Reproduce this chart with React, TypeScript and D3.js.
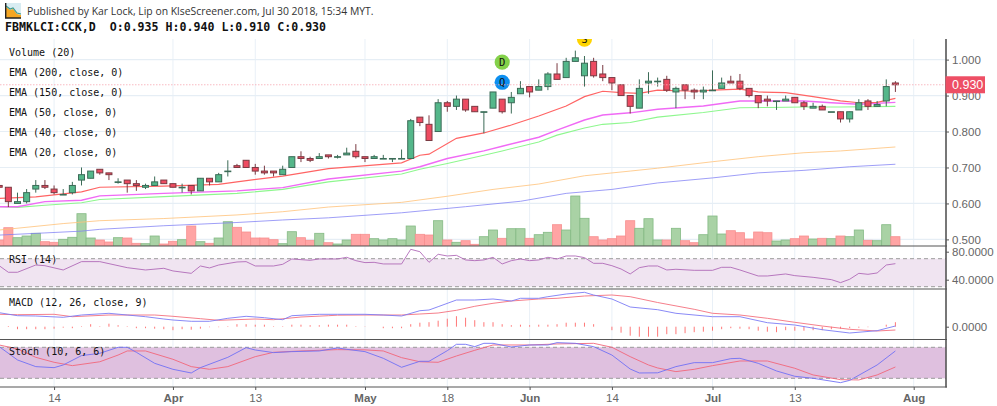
import { useEffect, useRef } from 'react';
import * as d3 from 'd3';

const opens = [.650,.645,.600,.605,.640,.650,.640,.625,.630,.665,.670,.695,.685,.660,.665,.655,.645,.650,.665,.655,.645,.650,.635,.670,.660,.690,.705,.720,.700,.690,.690,.680,.700,.730,.725,.725,.735,.730,.735,.745,.730,.725,.725,.725,.725,.725,.840,.820,.800,.880,.870,.890,.870,.855,.865,.890,.880,.905,.925,.915,.925,.960,.950,.995,.955,.995,.960,.950,.930,.900,.865,.935,.940,.945,.910,.930,.915,.910,.915,.920,.940,.940,.920,.900,.890,.885,.885,.895,.880,.865,.870,.855,.855,.835,.860,.885,.870,.885,.935];
const highs = [.650,.645,.630,.640,.665,.665,.650,.640,.660,.700,.690,.695,.685,.670,.665,.665,.655,.675,.665,.655,.655,.650,.670,.670,.685,.720,.710,.720,.710,.705,.690,.705,.730,.745,.730,.740,.735,.735,.755,.765,.730,.735,.735,.725,.750,.835,.840,.845,.890,.885,.900,.890,.870,.855,.910,.890,.910,.940,.925,.945,.965,.990,1.005,1.025,1.010,1.005,.985,.950,.930,.900,.945,.965,.950,.955,.925,.930,.920,.925,.970,.950,.955,.960,.920,.900,.900,.885,.900,.895,.885,.880,.875,.855,.855,.855,.890,.890,.885,.945,.940];
const lows = [.645,.590,.600,.600,.630,.640,.625,.625,.625,.650,.670,.680,.665,.655,.630,.635,.640,.650,.655,.645,.630,.625,.635,.650,.660,.675,.700,.700,.680,.680,.675,.680,.700,.715,.715,.725,.725,.725,.735,.725,.715,.725,.725,.715,.725,.725,.815,.775,.800,.855,.860,.855,.855,.795,.865,.850,.850,.905,.895,.915,.915,.945,.950,.995,.925,.950,.940,.915,.900,.850,.865,.905,.925,.910,.865,.890,.890,.890,.915,.920,.935,.915,.895,.865,.870,.860,.885,.880,.860,.865,.860,.855,.825,.825,.860,.860,.870,.870,.910];
const closes = [.645,.605,.605,.630,.650,.645,.630,.625,.650,.680,.690,.685,.680,.660,.655,.650,.650,.660,.655,.645,.645,.635,.670,.660,.680,.690,.700,.700,.690,.685,.685,.695,.730,.725,.720,.730,.730,.730,.740,.730,.725,.730,.725,.725,.725,.830,.825,.775,.880,.870,.890,.860,.855,.855,.910,.855,.895,.920,.910,.925,.960,.945,.995,1.005,.990,.955,.950,.935,.900,.870,.920,.940,.940,.915,.920,.915,.910,.915,.915,.935,.935,.920,.900,.880,.885,.885,.890,.880,.870,.870,.860,.855,.835,.855,.880,.870,.875,.925,.930];
const volumes = [6,18.3,8.3,10,12.7,4.3,3.7,6.7,8.7,32.3,8,6,4,8.3,8,2.7,2.3,10,2,4.7,6.3,20,4.3,2.7,8,24.3,18.7,14,8,8,6.3,2.3,14.3,8.3,5.7,12.7,3.3,2,6,11.7,11.7,7.3,6,7.3,6,20,11.7,11,25.3,6,3.7,5.3,1.7,9.3,16,7.7,17.3,17.3,7.7,11.3,13.7,21.3,16,50,27.7,9.3,6,7.3,10,25.3,17.7,27.3,6,6,17.7,5.3,3.3,11.3,30,12,15.3,13.3,7,14,13.3,5,6,7.3,10,7,7.7,7.3,10,9.3,16,5.7,5.3,21.3,9.3];

// [bar index, value] at each visible bend
const ema20 = [[0,.614],[4,.618],[9,.632],[11,.645],[18,.648],[24,.653],[26,.660],[31,.676],[36,.697],[44,.713],[46,.734],[47,.737],[50,.781],[53,.796],[56,.818],[59,.843],[62,.871],[64,.897],[66,.912],[68,.908],[70,.906],[72,.915],[76,.912],[78,.915],[81,.918],[83,.910],[86,.908],[89,.897],[92,.885],[94,.880],[96,.881],[98,.892]];
const ema50 = [[0,.591],[2,.591],[5,.605],[9,.609],[11,.621],[18,.628],[26,.635],[31,.644],[36,.668],[44,.690],[46,.702],[49,.725],[53,.746],[55,.759],[59,.784],[61,.804],[64,.832],[66,.846],[69,.852],[72,.862],[77,.871],[81,.885],[84,.885],[88,.885],[91,.880],[94,.876],[98,.881]];
const ema40 = [[0,.591],[2,.589],[5,.595],[9,.602],[11,.611],[18,.619],[26,.628],[31,.639],[36,.660],[44,.682],[46,.695],[49,.711],[53,.734],[55,.746],[59,.771],[61,.790],[64,.810],[66,.820],[69,.825],[72,.840],[77,.853],[81,.866],[84,.867],[88,.868],[92,.868],[98,.870]];
const ema150 = [[0,.526],[7,.544],[11,.552],[18,.558],[26,.568],[31,.577],[36,.590],[44,.603],[49,.620],[54,.639],[59,.654],[64,.677],[69,.690],[72,.698],[78,.716],[83,.730],[88,.741],[92,.746],[98,.757]];
const ema200 = [[0,.512],[5,.518],[9,.523],[11,.528],[18,.538],[26,.547],[31,.554],[36,.560],[44,.574],[51,.591],[57,.606],[62,.628],[67,.639],[72,.657],[78,.671],[83,.685],[88,.692],[93,.702],[98,.709]];

const rsi = [[0,60],[1,50.6],[2,50.6],[4,61],[5,60],[7,53.9],[9,65.8],[11,65.8],[14,57.2],[16,53.9],[18,56.3],[19,52.5],[21,49.1],[22,59.6],[23,56.8],[24,61],[26,65.3],[27,65.8],[28,59.6],[30,59.6],[31,62],[32,69.6],[34,67.7],[35,69.6],[37,69.6],[38,72],[39,67.2],[40,64.4],[41,64.8],[42,62.5],[44,62.5],[45,83.4],[46,80],[47,64.8],[48,76.3],[49,73.9],[50,74.8],[51,68.2],[52,67.2],[53,68.2],[54,72],[55,62.5],[56,67.2],[57,69.6],[58,67.2],[59,68.2],[60,72],[61,69.6],[62,73.9],[63,73.9],[64,71.5],[65,63.4],[66,63.4],[67,60],[68,55.3],[69,48.2],[70,57.2],[71,59.6],[72,59.6],[73,53.9],[74,54.9],[76,53.4],[78,53.4],[79,57.7],[80,57.7],[81,53.9],[83,45.3],[84,45.3],[86,48.2],[87,45.8],[89,43.4],[91,40.1],[92,35.8],[93,40.6],[94,49.1],[95,47.7],[96,49.6],[97,61],[98,62.9]];

const macd = [[0,14],[2,11],[4,10.7],[7,9.4],[9,11.7],[12,13.4],[14,11.7],[16,10],[18,7.7],[19,6.7],[21,5.4],[23,5.4],[25,8.4],[27,10.4],[29,9],[31,7],[32,11],[35,12.4],[37,12.4],[40,12.4],[42,11.7],[44,10.7],[46,16],[47,16.7],[48,20],[50,26.7],[52,26.7],[54,27.7],[56,25.7],[57,28.4],[59,28.4],[60,30],[62,32.7],[64,34.4],[65,31.7],[67,27.7],[69,19.7],[72,17],[74,13.4],[78,10],[81,10],[84,4],[87,1.7],[90,-3],[93,-6.3],[96,-4],[98,.7]];
const signal = [[0,12.4],[2,12],[6,12.4],[8,10],[12,11.7],[17,11.7],[19,10.4],[22,8],[24,6.4],[28,7.7],[30,7],[33,9.7],[36,11],[37,11.5],[40,11.7],[44,11.7],[46,12.7],[48,13.7],[50,16.4],[52,20.4],[54,23.4],[56,25.7],[59,27.7],[61,28.4],[64,30.7],[67,31.7],[69,30],[72,24.2],[76,17.4],[78,13.4],[81,11.7],[84,8.4],[87,4.4],[90,.7],[93,-2.6],[96,-4.3],[98,-3.3]];
const macdHist = [.5,.7,-2.5,-2.5,-2.5,-2.5,-2,-1,-1.5,.5,2.5,.5,3,1.5,.5,-1.5,-1.5,-2,-2.5,-3.5,-2.5,-3,-2,-.5,-.5,.5,2.5,2.5,2,2,.5,.5,2,2,1.5,1.5,2,2,2,.5,.3,0,-1.5,-1.5,-1.5,2.5,4,4.5,6,8,10.5,9,6.5,4.5,4.5,2.5,1.5,2,1.5,2,2,2.5,4,4,4,2.5,0,-3.5,-6,-9,-10,-10,-10,-7.5,-7.5,-6.5,-5.5,-5,-4,-2.5,-1.5,-2,-2.5,-4,-5,-5.5,-3.5,-4,-4,-3.5,-3.5,-2.5,-2,-1.5,-1,-.5,0,2,4.5];

const stochK = [[0,81.3],[2,55.5],[4,42.6],[6,40.6],[7,45.8],[9,63.9],[11,68.4],[13,80],[14,80],[15,70.3],[17,49],[19,37.4],[21,30.3],[22,40.6],[25,60.6],[27,79.3],[28,74.8],[30,69.7],[32,71.6],[35,72.9],[37,78.7],[38,76.1],[40,71.6],[42,58.7],[44,41.3],[46,52.9],[47,52.9],[49,73.5],[50,85.8],[51,85.8],[52,81.3],[53,87.7],[54,87.7],[56,80.6],[58,84.5],[60,84.5],[61,89],[63,87.7],[65,81.3],[67,65],[69,38],[70,30.3],[72,30.6],[74,42.6],[76,50.3],[78,50.3],[80,58],[81,58.7],[83,49],[85,34.2],[87,23.9],[89,20],[92,11.6],[93,16],[96,45.8],[98,72.9]];
const stochD = [[0,84.5],[2,76.8],[4,60.6],[6,51],[8,44.5],[11,52],[13,65],[14,72.9],[16,72.9],[19,56.8],[21,42.6],[23,37.4],[25,42.6],[28,61.9],[30,70.3],[33,72.9],[37,75.5],[40,75],[42,72.9],[44,60],[46,52],[48,51],[50,63.2],[52,74.2],[54,84.5],[58,84.5],[61,86.5],[65,87.7],[67,80],[69,61.9],[71,45.8],[72,40],[74,32.9],[76,37.4],[78,44.5],[81,53.5],[84,53.5],[87,39.4],[89,26.5],[92,17.4],[94,16.8],[96,26.5],[98,41.9]];

const dateTicks = [[6,'14'],[19,'Apr'],[28,'13'],[40,'May'],[49,'18'],[58,'Jun'],[67,'14'],[78,'Jul'],[87,'13'],[100,'Aug']];
const priceTicks = [0.5,0.6,0.7,0.8,0.9,1.0];
const rsiTicks = [40,80];
const studies = ['Volume (20)','EMA (200, close, 0)','EMA (150, close, 0)','EMA (50, close, 0)','EMA (40, close, 0)','EMA (20, close, 0)'];
const signals = [[55,.937,'Q','#0d8ff0'],[55,.993,'D','#84d14a'],[64,1.057,'S','#ffd400']];

const width = 997;
const height = 406;
const axisX = 946;
const mono = '"DejaVu Sans Mono", monospace';
const sans = '"Liberation Sans", Arial, sans-serif';

const App = () => {
  const svgRef = useRef();

  useEffect(() => {
    const svg = d3.select(svgRef.current);
    svg.selectAll('*').remove();

    const x = d3.scaleLinear().domain([0, 98]).range([-0.8, 895.4]);
    const step = x(1) - x(0);
    const y = d3.scaleLinear().domain([0.5, 1]).range([239.4, 59.6]);
    const yVol = d3.scaleLinear().domain([0, 50]).range([246, 196]);
    const yRsi = d3.scaleLinear().domain([40, 80]).range([279.7, 251.7]);
    const yMacd = d3.scaleLinear().domain([0, 34.4]).range([326.7, 292.3]);
    const yStoch = d3.scaleLinear().domain([20, 80]).range([378.3, 347.3]);

    svg.append('clipPath').attr('id', 'main').append('rect')
      .attr('x', 0).attr('y', 39).attr('width', axisX).attr('height', 207);

    // Grid
    svg.append('g').selectAll('line').data(dateTicks).join('line')
      .attr('x1', d => x(d[0])).attr('x2', d => x(d[0]))
      .attr('y1', 39).attr('y2', 387)
      .attr('stroke', '#e9f0f7').attr('stroke-width', 1);
    svg.append('g').selectAll('line').data(priceTicks).join('line')
      .attr('x1', 0).attr('x2', axisX)
      .attr('y1', d => y(d)).attr('y2', d => y(d))
      .attr('stroke', '#e6eef5').attr('stroke-width', 1.2);

    const main = svg.append('g').attr('clip-path', 'url(#main)');

    // Volume
    main.append('g').selectAll('rect').data(volumes).join('rect')
      .attr('x', (d, i) => x(i) - step / 2)
      .attr('y', d => yVol(d))
      .attr('width', step)
      .attr('height', d => yVol(0) - yVol(d))
      .attr('fill', (d, i) => closes[i] >= opens[i] ? '#a9d2a5' : '#ffa4a4')
      .attr('stroke', (d, i) => closes[i] >= opens[i] ? '#84ba84' : '#f79090')
      .attr('stroke-width', 0.8);

    // Moving averages
    const line = scaleY => d3.line().x(d => x(d[0])).y(d => scaleY(d[1]));
    [
      [ema200, '#8080f5', 0.9, 0.85],
      [ema150, '#ffc27a', 0.9, 0.9],
      [ema40, '#8ef78e', 1.1, 1],
      [ema50, '#f06af5', 1.4, 1],
      [ema20, '#ff6464', 1.2, 1],
    ].forEach(([data, color, w, o]) => {
      main.append('path').attr('d', line(y)(data))
        .attr('fill', 'none').attr('stroke', color).attr('stroke-width', w).attr('opacity', o);
    });

    // Candles
    const candles = main.append('g').selectAll('g').data(closes).join('g');
    candles.append('line')
      .attr('x1', (d, i) => x(i)).attr('x2', (d, i) => x(i))
      .attr('y1', (d, i) => y(highs[i])).attr('y2', (d, i) => y(lows[i]))
      .attr('stroke', (d, i) => closes[i] >= opens[i] ? '#3c6b57' : '#7a3a42')
      .attr('stroke-width', 1);
    candles.append('rect')
      .attr('x', (d, i) => x(i) - 3)
      .attr('width', 6)
      .attr('y', (d, i) => y(Math.max(opens[i], closes[i])))
      .attr('height', (d, i) => Math.max(0.6, Math.abs(y(opens[i]) - y(closes[i]))))
      .attr('fill', (d, i) => closes[i] >= opens[i] ? '#54b78a' : '#ee4b61')
      .attr('stroke', (d, i) => closes[i] >= opens[i] ? '#3c6b57' : '#7a3a42')
      .attr('stroke-width', 1);

    // Signal markers
    const marks = main.append('g').selectAll('g').data(signals).join('g')
      .attr('transform', d => `translate(${x(d[0])},${y(d[1])})`);
    marks.append('circle').attr('r', 7.6).attr('fill', d => d[3]);
    marks.append('text').text(d => d[2])
      .attr('text-anchor', 'middle').attr('dy', 3.8)
      .attr('font-family', mono).attr('font-size', 10.5).attr('fill', '#111');

    // Last price line
    svg.append('line')
      .attr('x1', 0).attr('x2', axisX)
      .attr('y1', y(closes[98])).attr('y2', y(closes[98]))
      .attr('stroke', '#f7a8b2').attr('stroke-width', 0.8).attr('stroke-dasharray', '1.5,1.5');

    // RSI
    svg.append('rect').attr('x', 0).attr('width', axisX)
      .attr('y', yRsi(70)).attr('height', yRsi(30) - yRsi(70))
      .attr('fill', '#f0e4f1');
    [70, 30].forEach(v => {
      svg.append('line').attr('x1', 0).attr('x2', axisX)
        .attr('y1', yRsi(v)).attr('y2', yRsi(v))
        .attr('stroke', '#9a9a9a').attr('stroke-width', 1).attr('stroke-dasharray', '4,3');
    });
    svg.append('path').attr('d', line(yRsi)(rsi))
      .attr('fill', 'none').attr('stroke', '#b06ab8').attr('stroke-width', 0.9);

    // MACD
    svg.append('g').selectAll('line').data(macdHist).join('line')
      .attr('x1', (d, i) => x(i)).attr('x2', (d, i) => x(i))
      .attr('y1', yMacd(0)).attr('y2', d => yMacd(d))
      .attr('stroke', '#f77').attr('stroke-width', 1);
    svg.append('path').attr('d', line(yMacd)(signal))
      .attr('fill', 'none').attr('stroke', '#f4707e').attr('stroke-width', 0.9);
    svg.append('path').attr('d', line(yMacd)(macd))
      .attr('fill', 'none').attr('stroke', '#7c7cf5').attr('stroke-width', 0.9);

    // Stochastic
    svg.append('rect').attr('x', 0).attr('width', axisX)
      .attr('y', yStoch(80)).attr('height', yStoch(20) - yStoch(80))
      .attr('fill', '#dfc0df');
    [80, 20].forEach(v => {
      svg.append('line').attr('x1', 0).attr('x2', axisX)
        .attr('y1', yStoch(v)).attr('y2', yStoch(v))
        .attr('stroke', '#9a9a9a').attr('stroke-width', 1).attr('stroke-dasharray', '4,3');
    });
    svg.append('path').attr('d', line(yStoch)(stochD))
      .attr('fill', 'none').attr('stroke', '#f2667a').attr('stroke-width', 0.9);
    svg.append('path').attr('d', line(yStoch)(stochK))
      .attr('fill', 'none').attr('stroke', '#7070f5').attr('stroke-width', 0.9);

    // Panel frames
    [246, 289, 339.5, 387].forEach(v => {
      svg.append('line').attr('x1', 0).attr('x2', axisX + 1)
        .attr('y1', v).attr('y2', v)
        .attr('stroke', '#555').attr('stroke-width', 1.2);
    });

    // Right axes
    const styleAxis = g => {
      g.select('.domain').remove();
      g.selectAll('.tick line').attr('stroke', '#555');
      g.selectAll('.tick text')
        .attr('font-family', sans).attr('font-size', 11.5).attr('fill', '#666');
    };
    svg.append('g').attr('transform', `translate(${axisX},0)`)
      .call(d3.axisRight(y).tickValues(priceTicks).tickSize(3).tickPadding(3).tickFormat(d3.format('.3f')))
      .call(styleAxis);
    svg.append('g').attr('transform', `translate(${axisX},0)`)
      .call(d3.axisRight(yRsi).tickValues(rsiTicks).tickSize(3).tickPadding(3).tickFormat(d3.format('.4f')))
      .call(styleAxis);
    svg.append('g').attr('transform', `translate(${axisX},0)`)
      .call(d3.axisRight(yMacd).tickValues([0]).tickSize(3).tickPadding(3).tickFormat(d3.format('.4f')))
      .call(styleAxis);
    svg.append('line').attr('x1', axisX).attr('x2', axisX).attr('y1', 39).attr('y2', 387.5)
      .attr('stroke', '#555').attr('stroke-width', 1.6);

    // Bottom axis
    const xAxis = svg.append('g').attr('transform', 'translate(0,387)')
      .call(d3.axisBottom(x).tickValues(dateTicks.map(d => d[0])).tickSize(3).tickPadding(4)
        .tickFormat(d => dateTicks.find(t => t[0] === d)[1]))
      .call(styleAxis);
    xAxis.selectAll('.tick text')
      .attr('font-weight', d => isNaN(+dateTicks.find(t => t[0] === d)[1]) ? 'bold' : 'normal');

    // Last price tag
    const tagY = y(closes[98]);
    svg.append('rect').attr('x', axisX - 0.5).attr('y', tagY - 8.5).attr('width', 39.5).attr('height', 17)
      .attr('fill', '#ee4f65');
    svg.append('text').text(d3.format('.3f')(closes[98]))
      .attr('x', axisX + 6).attr('y', tagY + 4.5)
      .attr('font-family', sans).attr('font-size', 12.5).attr('fill', '#fff');

    // Study labels
    svg.append('g').selectAll('text').data(studies).join('text')
      .text(d => d)
      .attr('x', 9).attr('y', (d, i) => 56 + i * 20)
      .attr('font-family', mono).attr('font-size', 10).attr('fill', '#111');
    [['RSI (14)', 263], ['MACD (12, 26, close, 9)', 306], ['Stoch (10, 6, 6)', 355]].forEach(([label, ly]) => {
      svg.append('text').text(label).attr('x', 9).attr('y', ly)
        .attr('font-family', mono).attr('font-size', 10).attr('fill', '#111');
    });

    // Header
    const icon = svg.append('g').attr('transform', 'translate(5,3)');
    icon.append('rect').attr('width', 16).attr('height', 15).attr('fill', '#d8ecf2');
    icon.append('path').attr('d', 'M1,4L5,7L8,6L12,11L16,12V15H1Z').attr('fill', '#f5a623');
    icon.append('path').attr('d', 'M1,3L5,6L8,5L12,10L16,11').attr('fill', 'none').attr('stroke', '#3f9a8c').attr('stroke-width', 1.2);
    icon.append('path').attr('d', 'M0.7,0V15H16').attr('fill', 'none').attr('stroke', '#222').attr('stroke-width', 1.4);
    svg.append('text').text('Published by Kar Lock, Lip on KlseScreener.com, Jul 30 2018, 15:34 MYT.')
      .attr('x', 27).attr('y', 15)
      .attr('font-family', '"Open Sans", sans-serif').attr('font-size', 10.4).attr('fill', '#333');
    svg.append('text').text('FBMKLCI:CCK,D  O:0.935 H:0.940 L:0.910 C:0.930')
      .attr('x', 5).attr('y', 31)
      .style('white-space', 'pre')
      .attr('font-family', mono).attr('font-weight', 'bold').attr('font-size', 11.6).attr('fill', '#111');
  }, []);

  return (
    <svg
      ref={svgRef}
      width={width}
      height={height}
      viewBox={`0 0 ${width} ${height}`}
      style={{ position: 'absolute', left: 0, top: 0, background: '#fff' }}
    />
  );
};

export default App;
